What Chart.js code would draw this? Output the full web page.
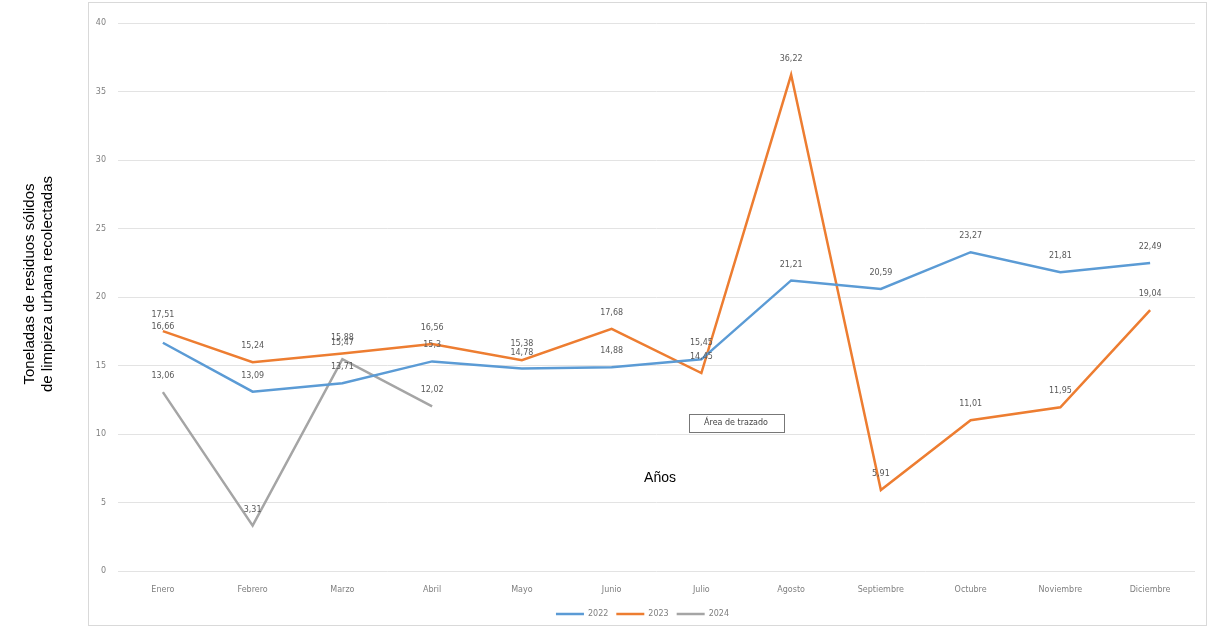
<!DOCTYPE html>
<html>
<head>
<meta charset="utf-8">
<script src="https://cdn.jsdelivr.net/npm/chart.js@4"></script>
<style>
  html, body { margin: 0; padding: 0; background: #fff; }
  #wrap { width: 1209px; height: 628px; position: relative; }
</style>
</head>
<body>
<div id="wrap"><canvas id="grafico"></canvas></div>
<script>
// meses y toneladas recolectadas por año
const meses = ["Enero", "Febrero", "Marzo", "Abril", "Mayo", "Junio", "Julio", "Agosto", "Septiembre", "Octubre", "Noviembre", "Diciembre"];
const anios = ["2022", "2023", "2024"];
const datos2022 = [16.66, 13.09, 13.71, 15.3, 14.78, 14.88, 15.45, 21.21, 20.59, 23.27, 21.81, 22.49];
const datos2023 = [17.51, 15.24, 15.88, 16.56, 15.38, 17.68, 14.45, 36.22, 5.91, 11.01, 11.95, 19.04];
const datos2024 = [13.06, 3.31, 15.47, 12.02, null, null, null, null, null, null, null, null];
const ticksY = [0, 5, 10, 15, 20, 25, 30, 35, 40];
const colores = ["#5b9bd5", "#ed7d31", "#a5a5a5"];

// borde, título del eje y textos sueltos
const extras = {
  id: "extras",
  beforeDraw(chart) {
    const c = chart.ctx;
    c.save();
    c.fillStyle = "#fff";
    c.fillRect(0, 0, chart.width, chart.height);
    c.strokeStyle = "#d9d9d9";
    c.lineWidth = 1;
    c.strokeRect(88.5, 2.5, 1118, 623);
    c.restore();
  },
  afterDraw(chart) {
    const c = chart.ctx;
    c.save();
    c.fillStyle = "#000";
    c.font = "15px 'Liberation Sans', Arial, sans-serif";
    c.textAlign = "center";
    c.textBaseline = "middle";
    c.translate(39, 284);
    c.rotate(-Math.PI / 2);
    c.fillText("Toneladas de residuos sólidos", 0, -9);
    c.fillText("de limpieza urbana recolectadas", 0, 9);
    c.restore();

    c.save();
    c.fillStyle = "#000";
    c.font = "14px 'Liberation Sans', Arial, sans-serif";
    c.textAlign = "center";
    c.textBaseline = "middle";
    c.fillText("Años", 660, 478);

    c.font = "8px 'DejaVu Sans', sans-serif";
    c.fillStyle = "#444";
    c.fillText("Área de trazado", 736, 423);
    c.strokeStyle = "#777";
    c.strokeRect(689.5, 414.5, 95, 18);
    c.restore();

    // etiquetas de datos
    c.save();
    c.font = "8px 'DejaVu Sans', sans-serif";
    c.fillStyle = "#595959";
    c.textAlign = "center";
    c.textBaseline = "middle";
    chart.data.datasets.forEach((ds, i) => {
      const meta = chart.getDatasetMeta(i);
      meta.data.forEach((pt, j) => {
        const v = ds.data[j];
        if (v === null) return;
        c.fillText(String(v).replace(".", ","), pt.x, pt.y - 16);
      });
    });
    c.restore();
  }
};

const ctx = document.getElementById("grafico").getContext("2d");
new Chart(ctx, {
  type: "line",
  data: {
    labels: meses,
    datasets: [
      { label: anios[0], data: datos2022, borderColor: colores[0], backgroundColor: colores[0], borderWidth: 2.5 },
      { label: anios[1], data: datos2023, borderColor: colores[1], backgroundColor: colores[1], borderWidth: 2.5 },
      { label: anios[2], data: datos2024, borderColor: colores[2], backgroundColor: colores[2], borderWidth: 2.5 }
    ]
  },
  options: {
    responsive: true,
    maintainAspectRatio: false,
    animation: false,
    elements: {
      line: { tension: 0 },
      point: { radius: 0, hoverRadius: 0 }
    },
    layout: { padding: { left: 90, right: 14, top: 23, bottom: 0 } },
    plugins: {
      tooltip: { enabled: false },
      legend: {
        display: true,
        position: "bottom",
        labels: {
          usePointStyle: true,
          pointStyle: "line",
          pointStyleWidth: 28,
          color: "#7f7f7f",
          font: { size: 8, family: "'DejaVu Sans', sans-serif" },
          padding: 8,
          boxHeight: 2
        }
      }
    },
    scales: {
      x: {
        offset: true,
        grid: { display: false },
        border: { display: false },
        ticks: { color: "#7f7f7f", font: { size: 8, family: "'DejaVu Sans', sans-serif" }, padding: 6, maxRotation: 0 },
        afterFit(s) { s.height = 31; }
      },
      y: {
        min: 0,
        max: 40,
        afterBuildTicks(s) { s.ticks = ticksY.map(v => ({ value: v })); },
        grid: { color: "#e3e3e3", drawTicks: false },
        border: { display: false },
        ticks: { color: "#7f7f7f", font: { size: 8, family: "'DejaVu Sans', sans-serif" }, padding: 12 },
        afterFit(s) { s.width = 28; }
      }
    }
  },
  plugins: [extras]
});
</script>
</body>
</html>
